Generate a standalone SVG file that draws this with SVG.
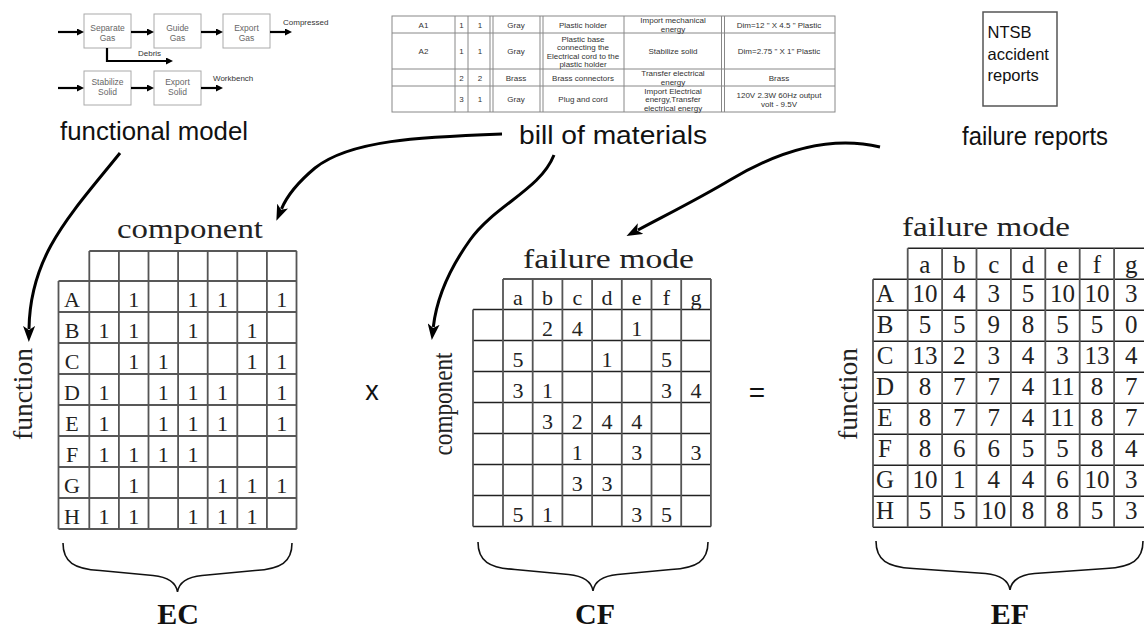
<svg xmlns="http://www.w3.org/2000/svg" width="1144" height="632" viewBox="0 0 1144 632">
<style>
.bom{font-family:"Liberation Sans",Arial,sans-serif;font-size:8px;fill:#333;text-anchor:middle}
.bl{stroke:#888;stroke-width:1;fill:none}
.fmbox{fill:#fff;stroke:#aaa;stroke-width:1}
.fmt{font-family:"Liberation Sans",Arial,sans-serif;font-size:8.5px;fill:#666;text-anchor:middle}
.fml{font-family:"Liberation Sans",Arial,sans-serif;font-size:8px;fill:#333}
.fa{stroke:#000;stroke-width:2.2;fill:none;marker-end:url(#sa)}
.lbl{font-family:"Liberation Sans",Arial,sans-serif;font-size:25px;fill:#111;text-anchor:middle}
.ser{font-family:"Liberation Serif","Times New Roman",serif;fill:#222;text-anchor:middle}
.s22{font-size:22px}
.s25{font-size:25px}
.s27{font-size:27px}
.gv{stroke:#555;stroke-width:1.8}
.gh{stroke:#222;stroke-width:1.4}
.brace{fill:none;stroke:#111;stroke-width:1.6}
.big{fill:none;stroke:#000;stroke-width:3;marker-end:url(#ah)}
.bold{font-family:"Liberation Serif","Times New Roman",serif;font-size:30px;font-weight:bold;fill:#111;text-anchor:middle}
</style>
<defs>
<marker id="sa" viewBox="0 0 7 7" refX="0" refY="3.5" markerWidth="7" markerHeight="7" markerUnits="userSpaceOnUse" orient="auto"><path d="M0,0 L7,3.5 L0,7 z" fill="#000"/></marker>
<marker id="ah" viewBox="0 0 16 12" refX="3" refY="6" markerWidth="16" markerHeight="12" markerUnits="userSpaceOnUse" orient="auto"><path d="M0,0 L16,6 L0,12 L4,6 z" fill="#000"/></marker>
</defs>
<rect width="1144" height="632" fill="#fff"/>

<g id="functional-model">
<rect class="fmbox" x="84" y="14" width="47" height="34"/>
<text class="fmt" x="107.5" y="31.3">Separate</text><text class="fmt" x="107.5" y="40.7">Gas</text>
<rect class="fmbox" x="154" y="14" width="47" height="34"/>
<text class="fmt" x="177.5" y="31.3">Guide</text><text class="fmt" x="177.5" y="40.7">Gas</text>
<rect class="fmbox" x="223" y="14" width="47" height="34"/>
<text class="fmt" x="246.5" y="31.3">Export</text><text class="fmt" x="246.5" y="40.7">Gas</text>
<rect class="fmbox" x="84" y="71" width="47" height="34"/>
<text class="fmt" x="107.5" y="84.5">Stabilize</text><text class="fmt" x="107.5" y="94.5">Solid</text>
<rect class="fmbox" x="154" y="71" width="47" height="34"/>
<text class="fmt" x="177.5" y="84.5">Export</text><text class="fmt" x="177.5" y="94.5">Solid</text>
<path class="fa" d="M58,32 H77"/><path class="fa" d="M131,32 H147"/><path class="fa" d="M201,32 H216"/><path class="fa" d="M270,32 H285"/>
<path class="fa" d="M58,88 H77"/><path class="fa" d="M131,88 H147"/><path class="fa" d="M201,88 H216"/>
<path class="fa" d="M107,48 V61 H166"/>
<text class="fml" x="283" y="25">Compressed</text>
<text class="fml" x="138" y="56">Debris</text>
<text class="fml" x="213" y="80.5">Workbench</text>
<text class="lbl" x="154" y="140" textLength="188" lengthAdjust="spacingAndGlyphs">functional model</text>
</g>

<g id="bill-of-materials">
<rect class="bl" x="392" y="16" width="443" height="96"/>
<path class="bl" d="M392,33 H835 M392,69 H835 M392,86 H835 M455,16 V112 M468,16 V112 M490,16 V112 M493,16 V112 M540,16 V112 M543,16 V112 M624,16 V112 M721.5,16 V112 M724.5,16 V112"/>
<text class="bom" x="423.5" y="27.5">A1</text><text class="bom" x="461.5" y="27.5">1</text><text class="bom" x="480" y="27.5">1</text><text class="bom" x="516" y="27.5">Gray</text><text class="bom" x="583" y="27.5">Plastic holder</text>
<text class="bom" x="673" y="23">Import mechanical</text><text class="bom" x="673" y="31.5">energy</text><text class="bom" x="779" y="27.5">Dim=12 " X 4.5 " Plastic</text>
<text class="bom" x="423.5" y="54">A2</text><text class="bom" x="461.5" y="54">1</text><text class="bom" x="480" y="54">1</text><text class="bom" x="516" y="54">Gray</text>
<text class="bom" x="583" y="41.5">Plastic base</text><text class="bom" x="583" y="50">connecting the</text><text class="bom" x="583" y="58.5">Electrical cord to the</text><text class="bom" x="583" y="67">plastic holder</text>
<text class="bom" x="673" y="54">Stabilize solid</text><text class="bom" x="779" y="54">Dim=2.75 " X 1" Plastic</text>
<text class="bom" x="461.5" y="80.5">2</text><text class="bom" x="480" y="80.5">2</text><text class="bom" x="516" y="80.5">Brass</text><text class="bom" x="583" y="80.5">Brass connectors</text>
<text class="bom" x="673" y="76">Transfer electrical</text><text class="bom" x="673" y="84.5">energy</text><text class="bom" x="779" y="80.5">Brass</text>
<text class="bom" x="461.5" y="102">3</text><text class="bom" x="480" y="102">1</text><text class="bom" x="516" y="102">Gray</text><text class="bom" x="583" y="102">Plug and cord</text>
<text class="bom" x="673" y="93.5">Import Electrical</text><text class="bom" x="673" y="102">energy,Transfer</text><text class="bom" x="673" y="110.5">electrical energy</text>
<text class="bom" x="779" y="98">120V 2.3W 60Hz output</text><text class="bom" x="779" y="106.5">volt - 9.5V</text>
<text class="lbl" x="613" y="144" textLength="188" lengthAdjust="spacingAndGlyphs">bill of materials</text>
</g>

<g id="failure-reports">
<rect x="983" y="12" width="74" height="94" fill="#fff" stroke="#555" stroke-width="1.5"/>
<text class="fml" style="font-size:16.5px;fill:#111" x="987.5" y="38">NTSB</text>
<text class="fml" style="font-size:16.5px;fill:#111" x="987.5" y="60">accident</text>
<text class="fml" style="font-size:16.5px;fill:#111" x="987.5" y="81">reports</text>
<text class="lbl" x="1035" y="145" textLength="146" lengthAdjust="spacingAndGlyphs">failure reports</text>
</g>

<g id="connectors">
<path class="big" d="M120,153 C70,215 30,255 29,329"/>
<path class="big" d="M502,134 C420,137 350,140 315,168 C297,183 287,196 281.5,208.8"/>
<path class="big" d="M554,155 C540,190 495,205 470,240 C450,268 437,295 433.3,327"/>
<path class="big" d="M880,147 C830,135 780,150 730,180 C700,198 668,214 638,230"/>
</g>

<g id="EC">
<text class="ser s27" x="190" y="238" textLength="146" lengthAdjust="spacingAndGlyphs">component</text>
<text class="ser s27" transform="translate(32,394) rotate(-90)" textLength="92" lengthAdjust="spacingAndGlyphs">function</text>
<path class="gh" d="M89.3,251 H296.7 M58.5,281 H296.7 M58.5,312 H296.7 M58.5,343 H296.7 M58.5,374 H296.7 M58.5,405 H296.7 M58.5,436 H296.7 M58.5,467 H296.7 M58.5,498 H296.7 M58.5,529 H296.7"/>
<path class="gv" d="M58.5,281 V529 M89.3,251 V529 M118.9,251 V529 M148.5,251 V529 M178.1,251 V529 M207.7,251 V529 M237.3,251 V529 M266.9,251 V529 M296.5,251 V529"/>
<g class="ser s22">
<text x="72" y="307">A</text><text x="133.7" y="307">1</text><text x="192.9" y="307">1</text><text x="222.5" y="307">1</text><text x="281.7" y="307">1</text>
<text x="72" y="338">B</text><text x="104.1" y="338">1</text><text x="133.7" y="338">1</text><text x="192.9" y="338">1</text><text x="252.1" y="338">1</text>
<text x="72" y="369">C</text><text x="133.7" y="369">1</text><text x="163.3" y="369">1</text><text x="252.1" y="369">1</text><text x="281.7" y="369">1</text>
<text x="72" y="400">D</text><text x="104.1" y="400">1</text><text x="163.3" y="400">1</text><text x="192.9" y="400">1</text><text x="222.5" y="400">1</text><text x="281.7" y="400">1</text>
<text x="72" y="431">E</text><text x="104.1" y="431">1</text><text x="163.3" y="431">1</text><text x="192.9" y="431">1</text><text x="222.5" y="431">1</text><text x="281.7" y="431">1</text>
<text x="72" y="462">F</text><text x="104.1" y="462">1</text><text x="133.7" y="462">1</text><text x="163.3" y="462">1</text><text x="192.9" y="462">1</text>
<text x="72" y="493">G</text><text x="133.7" y="493">1</text><text x="222.5" y="493">1</text><text x="252.1" y="493">1</text><text x="281.7" y="493">1</text>
<text x="72" y="524">H</text><text x="104.1" y="524">1</text><text x="133.7" y="524">1</text><text x="192.9" y="524">1</text><text x="222.5" y="524">1</text><text x="252.1" y="524">1</text>
</g>
<path class="brace" d="M63,543 C63,562 74,569 100,570.5 L153,575.5 C168,577 176,582 177.5,592 C179,582 187,577 202,575.5 L255,570.5 C281,569 292,562 292,543"/>
<text class="bold" x="178" y="624">EC</text>
</g>

<g id="times">
<text class="lbl" style="font-size:27px" x="372" y="400">x</text>
</g>

<g id="CF">
<text class="ser s27" x="608.5" y="268" textLength="171" lengthAdjust="spacingAndGlyphs">failure mode</text>
<text class="ser s27" transform="translate(452,404) rotate(-90)" textLength="103" lengthAdjust="spacingAndGlyphs">component</text>
<path class="gh" d="M503,279 H711 M473,309.5 H711 M473,340.5 H711 M473,371.5 H711 M473,402.5 H711 M473,433.5 H711 M473,464.5 H711 M473,495.5 H711 M473,526.5 H711"/>
<path class="gv" d="M473,309.5 V526.5 M503,279 V526.5 M532.7,279 V526.5 M562.4,279 V526.5 M592.1,279 V526.5 M621.8,279 V526.5 M651.5,279 V526.5 M681.2,279 V526.5 M710.9,279 V526.5"/>
<g class="ser s22">
<text x="517.9" y="305">a</text><text x="547.6" y="305">b</text><text x="577.3" y="305">c</text><text x="607" y="305">d</text><text x="636.7" y="305">e</text><text x="666.4" y="305">f</text><text x="696.1" y="305">g</text>
<text x="547.6" y="335.5">2</text><text x="577.3" y="335.5">4</text><text x="636.7" y="335.5">1</text>
<text x="517.9" y="366.5">5</text><text x="607" y="366.5">1</text><text x="666.4" y="366.5">5</text>
<text x="517.9" y="397.5">3</text><text x="547.6" y="397.5">1</text><text x="666.4" y="397.5">3</text><text x="696.1" y="397.5">4</text>
<text x="547.6" y="428.5">3</text><text x="577.3" y="428.5">2</text><text x="607" y="428.5">4</text><text x="636.7" y="428.5">4</text>
<text x="577.3" y="459.5">1</text><text x="636.7" y="459.5">3</text><text x="696.1" y="459.5">3</text>
<text x="577.3" y="490.5">3</text><text x="607" y="490.5">3</text>
<text x="517.9" y="521.5">5</text><text x="547.6" y="521.5">1</text><text x="636.7" y="521.5">3</text><text x="666.4" y="521.5">5</text>
</g>
<path class="brace" d="M478,542 C478,561 489,568 515,569.5 L568.5,574.5 C583.5,576 591.5,581 593,591 C594.5,581 602.5,576 617.5,574.5 L671,569.5 C697,568 708,561 708,542"/>
<text class="bold" x="595" y="624">CF</text>
</g>

<g id="equals">
<text class="lbl" style="font-size:28px" x="757" y="402">=</text>
</g>

<g id="EF">
<text class="ser s27" x="986" y="236" textLength="168" lengthAdjust="spacingAndGlyphs">failure mode</text>
<text class="ser s27" transform="translate(857,394) rotate(-90)" textLength="92" lengthAdjust="spacingAndGlyphs">function</text>
<path class="gh" d="M907.7,248.3 H1148.5 M873,279.3 H1148.5 M873,310.3 H1148.5 M873,341.3 H1148.5 M873,372.3 H1148.5 M873,403.3 H1148.5 M873,434.3 H1148.5 M873,465.3 H1148.5 M873,496.3 H1148.5 M873,527.3 H1148.5"/>
<path class="gv" d="M873,279.3 V527.3 M907.7,248.3 V527.3 M942.1,248.3 V527.3 M976.5,248.3 V527.3 M1010.9,248.3 V527.3 M1045.3,248.3 V527.3 M1079.7,248.3 V527.3 M1114.1,248.3 V527.3 M1148.5,248.3 V527.3"/>
<g class="ser s25">
<text x="924.9" y="273">a</text><text x="959.3" y="273">b</text><text x="993.7" y="273">c</text><text x="1028.1" y="273">d</text><text x="1062.5" y="273">e</text><text x="1096.9" y="273">f</text><text x="1131.3" y="273">g</text>
<text x="885" y="302.3">A</text><text x="924.9" y="302.3">10</text><text x="959.3" y="302.3">4</text><text x="993.7" y="302.3">3</text><text x="1028.1" y="302.3">5</text><text x="1062.5" y="302.3">10</text><text x="1096.9" y="302.3">10</text><text x="1131.3" y="302.3">3</text>
<text x="885" y="333.3">B</text><text x="924.9" y="333.3">5</text><text x="959.3" y="333.3">5</text><text x="993.7" y="333.3">9</text><text x="1028.1" y="333.3">8</text><text x="1062.5" y="333.3">5</text><text x="1096.9" y="333.3">5</text><text x="1131.3" y="333.3">0</text>
<text x="885" y="364.3">C</text><text x="924.9" y="364.3">13</text><text x="959.3" y="364.3">2</text><text x="993.7" y="364.3">3</text><text x="1028.1" y="364.3">4</text><text x="1062.5" y="364.3">3</text><text x="1096.9" y="364.3">13</text><text x="1131.3" y="364.3">4</text>
<text x="885" y="395.3">D</text><text x="924.9" y="395.3">8</text><text x="959.3" y="395.3">7</text><text x="993.7" y="395.3">7</text><text x="1028.1" y="395.3">4</text><text x="1062.5" y="395.3">11</text><text x="1096.9" y="395.3">8</text><text x="1131.3" y="395.3">7</text>
<text x="885" y="426.3">E</text><text x="924.9" y="426.3">8</text><text x="959.3" y="426.3">7</text><text x="993.7" y="426.3">7</text><text x="1028.1" y="426.3">4</text><text x="1062.5" y="426.3">11</text><text x="1096.9" y="426.3">8</text><text x="1131.3" y="426.3">7</text>
<text x="885" y="457.3">F</text><text x="924.9" y="457.3">8</text><text x="959.3" y="457.3">6</text><text x="993.7" y="457.3">6</text><text x="1028.1" y="457.3">5</text><text x="1062.5" y="457.3">5</text><text x="1096.9" y="457.3">8</text><text x="1131.3" y="457.3">4</text>
<text x="885" y="488.3">G</text><text x="924.9" y="488.3">10</text><text x="959.3" y="488.3">1</text><text x="993.7" y="488.3">4</text><text x="1028.1" y="488.3">4</text><text x="1062.5" y="488.3">6</text><text x="1096.9" y="488.3">10</text><text x="1131.3" y="488.3">3</text>
<text x="885" y="519.3">H</text><text x="924.9" y="519.3">5</text><text x="959.3" y="519.3">5</text><text x="993.7" y="519.3">10</text><text x="1028.1" y="519.3">8</text><text x="1062.5" y="519.3">8</text><text x="1096.9" y="519.3">5</text><text x="1131.3" y="519.3">3</text>
</g>
<path class="brace" d="M876,541 C876,560 887,567 913,568.5 L985.5,573.5 C1000.5,575 1008.5,580 1010,590 C1011.5,580 1019.5,575 1034.5,573.5 L1106,568.5 C1132,567 1143,560 1143,541"/>
<text class="bold" x="1010" y="624">EF</text>
</g>
</svg>
